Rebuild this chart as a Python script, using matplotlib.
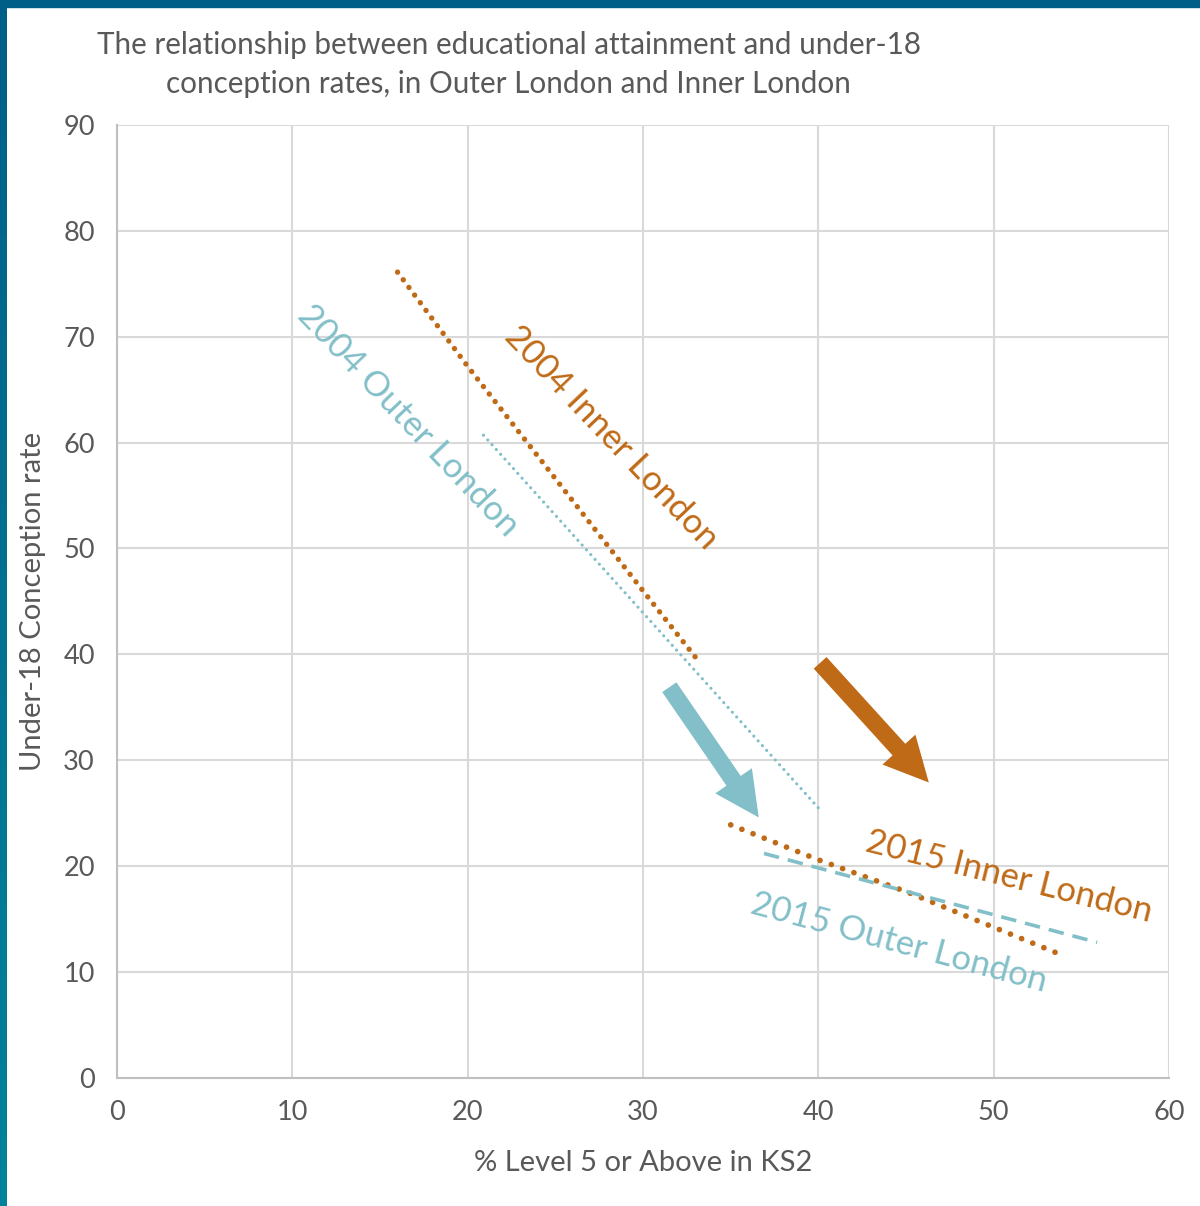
import matplotlib
matplotlib.use("Agg")
import matplotlib.pyplot as plt
import numpy as np
from matplotlib.patches import FancyArrowPatch, Rectangle

plt.rcParams['font.family'] = ['Lato', 'DejaVu Sans']

# trendline end points (x = % Level 5+, y = conception rate)
inner_2004_x = [16.0, 20.0, 30.0, 33.1]
inner_2004_y = [76.1, 67.2, 46.0, 39.5]
outer_2004_x = [20.9, 40.0]
outer_2004_y = [60.7, 25.5]
inner_2015_x = [35.0, 40.0, 45.0, 53.6]
inner_2015_y = [23.9, 20.6, 17.6, 11.8]
outer_2015_x = [36.9, 55.9]
outer_2015_y = [21.2, 12.8]

# arrows: (start, end) in data units
teal_arrow = [(31.5, 36.9), (36.6, 24.6)]
orange_arrow = [(40.1, 39.2), (46.3, 27.9)]

xticks = [0, 10, 20, 30, 40, 50, 60]
yticks = [0, 10, 20, 30, 40, 50, 60, 70, 80, 90]

ORANGE = '#BF6A17'
TEAL = '#82BFC8'
GREY = '#595959'

fig = plt.figure(figsize=(12, 12.06), dpi=100)
ax = fig.add_axes([0.0975, 0.1062, 0.8767, 0.7902])

ax.plot(inner_2004_x, inner_2004_y, color=ORANGE, lw=3.9,
        linestyle=(0, (0.01, 1.75)), dash_capstyle='round')
ax.plot(outer_2004_x, outer_2004_y, color=TEAL, lw=2.3,
        linestyle=(0, (0.01, 2.0)), dash_capstyle='round')
ax.plot(inner_2015_x, inner_2015_y, color=ORANGE, lw=4.1,
        linestyle=(0, (0.01, 2.1)), dash_capstyle='round')
ax.plot(outer_2015_x, outer_2015_y, color=TEAL, lw=2.6,
        linestyle=(0, (4.3, 2.5)))

for (p0, p1), col in [(teal_arrow, TEAL), (orange_arrow, ORANGE)]:
    arr = FancyArrowPatch(p0, p1, arrowstyle='simple,head_length=1.6,head_width=1.6,tail_width=0.62',
                          mutation_scale=20, color=col, lw=0, shrinkA=0, shrinkB=0)
    ax.add_patch(arr)

ax.text(16.6, 62.1, '2004 Outer London', color=TEAL, fontsize=25, rotation=-46.5,
        ha='center', va='center', rotation_mode='anchor')
ax.text(28.2, 60.5, '2004 Inner London', color=ORANGE, fontsize=25, rotation=-46.5,
        ha='center', va='center', rotation_mode='anchor')
ax.text(50.9, 19.0, '2015 Inner London', color=ORANGE, fontsize=25, rotation=-14,
        ha='center', va='center', rotation_mode='anchor')
ax.text(44.6, 12.8, '2015 Outer London', color=TEAL, fontsize=25, rotation=-15,
        ha='center', va='center', rotation_mode='anchor')

ax.set_xlim(0, 60)
ax.set_ylim(0, 90)
ax.set_xticks(xticks)
ax.set_yticks(yticks)
ax.grid(True, color='#D9D9D9', lw=1.5)
ax.set_axisbelow(True)
for side in ['top', 'right']:
    ax.spines[side].set_visible(False)
for side in ['left', 'bottom']:
    ax.spines[side].set_color('#BFBFBF')
    ax.spines[side].set_linewidth(1.5)
ax.tick_params(length=0, labelsize=19.5, colors=GREY)
ax.tick_params(axis='x', pad=16)
ax.tick_params(axis='y', pad=16)
ax.set_xlabel('% Level 5 or Above in KS2', fontsize=21, color=GREY, labelpad=18)
ax.set_ylabel('Under-18 Conception rate', fontsize=21, color=GREY, labelpad=12)

fig.text(0.424, 0.9465, 'The relationship between educational attainment and under-18\nconception rates, in Outer London and Inner London',
         ha='center', va='center', fontsize=21.3, color=GREY, linespacing=1.45)

# frame bars along the top and left edges
fig.patches.append(Rectangle((0, 1 - 7 / 1206), 1, 7 / 1206, transform=fig.transFigure,
                             color='#005F87', zorder=5))
grad = np.linspace(0, 1, 256).reshape(-1, 1)
lax = fig.add_axes([0, 0, 7 / 1200, 1])
lax.imshow(grad, aspect='auto', extent=[0, 1, 0, 1],
           cmap=matplotlib.colors.LinearSegmentedColormap.from_list('bar', ['#005F87', '#00839A']))
lax.axis('off')

fig.savefig('out.png', dpi=100)
